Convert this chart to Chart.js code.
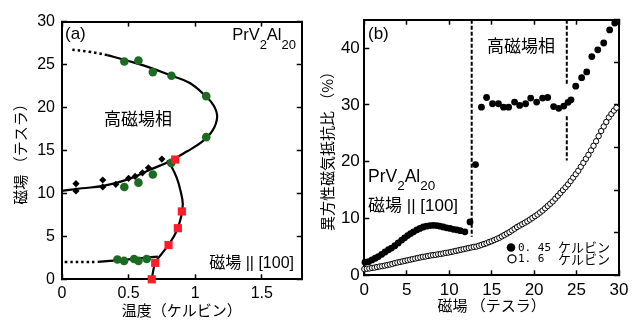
<!DOCTYPE html>
<html>
<head>
<meta charset="utf-8">
<script src="https://cdn.jsdelivr.net/npm/chart.js@4.4.1/dist/chart.umd.min.js"></script>
<style>
  html, body { margin: 0; padding: 0; background: #fff; }
  #wrap { position: relative; width: 640px; height: 333px; }
  .box { position: absolute; top: 0; width: 320px; height: 333px; }
</style>
</head>
<body>
<div id="wrap">
  <div class="box" style="left:0"><canvas id="left" width="320" height="333"></canvas></div>
  <div class="box" style="left:320px"><canvas id="right" width="320" height="333"></canvas></div>
</div>
<script>
// ---- panel (a): phase diagram, [temperature K, field T] ----
var tempTicks = [0, 0.5, 1, 1.5];
var fieldTicksA = [0, 5, 10, 15, 20, 25, 30];

var greenPts = [
  [0.468, 25.35], [0.574, 25.47], [0.682, 24.12], [0.822, 23.7], [1.083, 21.32], [1.083, 16.55],
  [0.468, 10.75], [0.574, 11.25], [0.682, 12.2], [0.82, 13.55],
  [0.416, 2.3], [0.466, 2.14], [0.541, 2.37], [0.574, 2.14], [0.636, 2.37]
];
var redPts = [[0.85, 13.94], [0.90, 7.9], [0.87, 5.95], [0.80, 3.99], [0.70, 1.92], [0.674, 0]];
var diamondPts = [
  [0.105, 11.13], [0.105, 10.29], [0.306, 11.56], [0.306, 10.75], [0.404, 11.06],
  [0.50, 11.75], [0.549, 11.98], [0.604, 12.4], [0.649, 12.98], [0.75, 14.0]
];
var upperCurve = [
  [0, 10.3], [0.15, 10.6], [0.31, 10.87], [0.49, 11.6], [0.66, 12.75], [0.81, 13.75],
  [0.94, 14.9], [1.05, 16.0], [1.13, 17.3], [1.165, 18.9], [1.14, 20.2], [1.08, 21.3],
  [0.96, 22.85], [0.82, 23.7], [0.65, 24.7], [0.48, 25.5], [0.34, 26.1]
];
var upperDotted = [[0.34, 26.1], [0.2, 26.5], [0.06, 26.75]];
var lowerCurve = [
  [0.674, 0], [0.70, 1.9], [0.75, 3.0], [0.80, 4.0], [0.86, 5.6], [0.895, 7.3],
  [0.907, 8.8], [0.89, 10.3], [0.862, 11.8], [0.82, 13.2], [0.79, 13.85]
];
var lowCurve = [[0.27, 2.03], [0.45, 2.25], [0.62, 2.5], [0.72, 2.65]];
var lowDotted = [[0.02, 2.0], [0.27, 2.03]];

// ---- panel (b): anisotropic MR ratio, [field T, ratio %] ----
var fieldTicksB = [0, 5, 10, 15, 20, 25, 30];
var ratioTicks = [0, 10, 20, 30, 40];
var ratioTicksRight = [0, 7.5, 15, 22.5, 30, 37.5, 45];

var filled045K = [
  [0.08, 2.3], [0.5, 2.4], [0.9, 2.7], [1.3, 3.0], [1.65, 3.3], [2.05, 3.7], [2.45, 4.1],
  [2.85, 4.5], [3.2, 4.8], [3.6, 5.2], [4.0, 5.7], [4.4, 6.2], [4.75, 6.6], [5.1, 7.0],
  [5.45, 7.35], [5.8, 7.65], [6.2, 8.0], [6.55, 8.25], [6.95, 8.5], [7.35, 8.65], [7.75, 8.75],
  [8.15, 8.8], [8.55, 8.75], [8.9, 8.65], [9.3, 8.5], [9.7, 8.35], [10.1, 8.25], [10.5, 8.1],
  [10.9, 8.0], [11.3, 7.85], [11.85, 7.65], [12.45, 9.4], [13.1, 19.5],
  [13.8, 29.6], [14.4, 31.3], [15.1, 30.2], [15.8, 30.2], [16.4, 29.6], [17.0, 29.6],
  [17.7, 30.5], [18.3, 29.9], [19.0, 30.2], [19.6, 31.2], [20.3, 30.5], [21.0, 31.2],
  [21.6, 31.3], [22.3, 29.7], [22.9, 29.4], [23.5, 29.8], [24.0, 30.45], [24.35, 30.9],
  [24.9, 33.3], [25.6, 34.8], [26.2, 35.8], [26.8, 38.5], [27.5, 39.7], [28.2, 40.9],
  [28.9, 43.2], [29.5, 44.4]
];
var open16K = [
  [0.0, 1.1], [0.3, 1.15], [0.6, 1.2], [0.9, 1.3], [1.2, 1.35], [1.5, 1.45], [1.8, 1.55],
  [2.1, 1.6], [2.4, 1.7], [2.7, 1.8], [3.0, 1.9], [3.3, 2.0], [3.6, 2.15], [3.9, 2.25],
  [4.2, 2.35], [4.5, 2.45], [4.8, 2.55], [5.1, 2.65], [5.4, 2.75], [5.7, 2.85], [6.0, 2.95],
  [6.3, 3.05], [6.6, 3.15], [6.9, 3.25], [7.2, 3.3], [7.5, 3.4], [7.8, 3.5], [8.1, 3.55],
  [8.4, 3.6], [8.7, 3.7], [9.0, 3.75], [9.3, 3.85], [9.6, 3.95], [9.9, 4.0], [10.2, 4.1],
  [10.5, 4.2], [10.8, 4.3], [11.1, 4.4], [11.4, 4.5], [11.7, 4.6], [12.0, 4.7], [12.3, 4.8],
  [12.6, 4.9], [12.9, 5.0], [13.2, 5.05], [13.5, 5.2], [13.8, 5.35], [14.1, 5.5], [14.4, 5.65],
  [14.7, 5.85], [15.0, 6.0], [15.3, 6.2], [15.6, 6.4], [15.9, 6.6], [16.2, 6.85], [16.5, 7.1],
  [16.8, 7.35], [17.1, 7.6], [17.4, 7.9], [17.7, 8.2], [18.0, 8.5], [18.3, 8.75], [18.6, 9.0],
  [18.9, 9.25], [19.2, 9.5], [19.5, 9.8], [19.8, 10.1], [20.1, 10.4], [20.4, 10.7], [20.7, 11.05],
  [21.0, 11.4], [21.3, 11.8], [21.6, 12.2], [21.9, 12.6], [22.2, 13.0], [22.5, 13.5], [22.8, 14.0],
  [23.1, 14.5], [23.4, 15.0], [23.7, 15.5], [24.0, 16.0], [24.3, 16.6], [24.6, 17.2], [24.9, 17.8],
  [25.2, 18.4], [25.5, 19.1], [25.8, 19.8], [26.1, 20.5], [26.4, 21.2], [26.7, 22.0], [27.0, 22.8],
  [27.3, 23.6], [27.6, 24.5], [27.9, 25.4], [28.2, 26.2], [28.5, 27.0], [28.8, 27.8], [29.1, 28.4],
  [29.4, 29.0], [29.7, 29.5]
];
var dash1 = [[12.65, 45], [12.65, 6.8]];
var dash2a = [[23.85, 45], [23.85, 33.7]];
var dash2b = [[23.85, 28], [23.85, 20.2]];

var LATIN = "'Liberation Sans', Arial, sans-serif";
var JP = "'Noto Sans CJK JP', sans-serif";
var MIX = "'Liberation Sans', 'Noto Sans CJK JP', sans-serif";

function xy(arr) { return arr.map(function (p) { return { x: p[0], y: p[1] }; }); }

function axis(pos, min, max, tickVals, size, showLabels, pad, fontSize, title) {
  var a = {
    type: 'linear', position: pos, min: min, max: max,
    afterBuildTicks: function (s) { s.ticks = tickVals.map(function (v) { return { value: v }; }); },
    afterFit: function (s) {
      if (pos === 'left' || pos === 'right') s.width = size; else s.height = size;
    },
    ticks: {
      display: showLabels, color: '#000', padding: pad, maxRotation: 0, autoSkip: false,
      font: { family: LATIN, size: fontSize || 15 },
      callback: function (v) { return String(v); }
    },
    grid: { drawOnChartArea: false, drawTicks: true, tickLength: -5, color: '#000', tickWidth: 1.5 },
    border: { display: true, color: '#000', width: 2 }
  };
  if (title) a.title = title;
  return a;
}

function line(data, dash, width) {
  return { data: xy(data), showLine: true, pointRadius: 0, borderColor: '#000',
    borderWidth: width || 2.2, borderDash: dash || [], tension: 0.4, fill: false };
}

function formula(ctx, x, base, big, small, drop, alignRight) {
  var parts = [['PrV', big, 0], ['2', small, drop], ['Al', big, 0], ['20', small, drop]];
  var total = 0;
  parts.forEach(function (p) { ctx.font = p[1] + 'px ' + LATIN; total += ctx.measureText(p[0]).width; });
  var cx = alignRight ? x - total : x;
  ctx.textAlign = 'left';
  ctx.textBaseline = 'alphabetic';
  parts.forEach(function (p) {
    ctx.font = p[1] + 'px ' + LATIN;
    ctx.fillText(p[0], cx, base + p[2]);
    cx += ctx.measureText(p[0]).width;
  });
}

var textA = {
  id: 'textA',
  afterDraw: function (chart) {
    var ctx = chart.ctx;
    ctx.save();
    ctx.fillStyle = '#000';
    ctx.font = '17px ' + LATIN;
    ctx.textAlign = 'left'; ctx.textBaseline = 'middle';
    ctx.fillText('(a)', 65, 34);
    formula(ctx, 296, 39.5, 16.5, 13, 9, true);
    ctx.font = '17px ' + JP;
    ctx.textAlign = 'center'; ctx.textBaseline = 'middle';
    ctx.fillText('高磁場相', 138, 119);
    ctx.font = '16px ' + MIX;
    ctx.textAlign = 'right';
    ctx.fillText('磁場 || [100]', 294, 264);
    ctx.restore();
  }
};

var textB = {
  id: 'textB',
  afterDraw: function (chart) {
    var ctx = chart.ctx;
    ctx.save();
    ctx.fillStyle = '#000';
    ctx.font = '17px ' + LATIN;
    ctx.textAlign = 'left'; ctx.textBaseline = 'middle';
    ctx.fillText('(b)', 48, 34);
    ctx.font = '17px ' + JP;
    ctx.textAlign = 'center';
    ctx.fillText('高磁場相', 201, 46);
    formula(ctx, 48, 182, 17.5, 13.5, 8, false);
    ctx.font = '17px ' + MIX;
    ctx.textAlign = 'left'; ctx.textBaseline = 'middle';
    ctx.fillText('磁場 || [100]', 48, 206);
    // legend
    ctx.beginPath();
    ctx.arc(191, 247.5, 4.3, 0, Math.PI * 2);
    ctx.fill();
    ctx.beginPath();
    ctx.arc(192, 258.8, 4, 0, Math.PI * 2);
    ctx.lineWidth = 1.3; ctx.strokeStyle = '#000';
    ctx.stroke();
    ctx.font = "11px 'DejaVu Sans Mono', monospace";
    ctx.fillText('0. 45', 198, 248);
    ctx.fillText('1. 6', 198, 259.5);
    ctx.font = '13px ' + JP;
    ctx.fillText('ケルビン', 238, 247.5);
    ctx.fillText('ケルビン', 238, 259);
    ctx.restore();
  }
};

var common = {
  responsive: false, animation: false,
  layout: { padding: 0 },
  plugins: { legend: { display: false }, tooltip: { enabled: false } }
};

new Chart(document.getElementById('left').getContext('2d'), {
  type: 'scatter',
  data: {
    datasets: [
      { data: xy(redPts), pointStyle: 'rect', pointRadius: 5.8, backgroundColor: '#fb1e2a', borderWidth: 0, clip: false },
      { data: xy(greenPts), pointStyle: 'circle', pointRadius: 4.3, backgroundColor: '#1d6b22', borderWidth: 0, clip: false },
      { data: xy(diamondPts), pointStyle: 'rectRot', pointRadius: 3.6, backgroundColor: '#000', borderWidth: 0, clip: false },
      line(upperCurve), line(lowerCurve), line(lowCurve),
      line(upperDotted, [2.5, 3], 2.5), line(lowDotted, [2.5, 3], 2.5)
    ]
  },
  options: Object.assign({}, common, {
    scales: {
      x: axis('bottom', 0, 1.8, tempTicks, 53.7, true, 10, 16, {
        display: true, text: '温度（ケルビン）', color: '#000',
        font: { family: JP, size: 15, lineHeight: 1 }, padding: { top: 0, bottom: 15.5 }
      }),
      x2: axis('top', 0, 1.8, tempTicks, 19, false, 0),
      y: axis('left', 0, 30, fieldTicksA, 62, true, 12, 16, {
        display: true, text: '磁場 （テスラ）', color: '#000',
        font: { family: JP, size: 15, lineHeight: 1 }, padding: { top: 13, bottom: 0 }
      }),
      y2: axis('right', 0, 30, fieldTicksA, 18.3, false, 0)
    }
  }),
  plugins: [textA]
});

new Chart(document.getElementById('right').getContext('2d'), {
  type: 'scatter',
  data: {
    datasets: [
      { data: xy(open16K), pointStyle: 'circle', pointRadius: 2.7, backgroundColor: '#fff', borderColor: '#000', borderWidth: 1, clip: false },
      { data: xy(filled045K), pointStyle: 'circle', pointRadius: 3.4, backgroundColor: '#000', borderWidth: 0, clip: false },
      Object.assign(line(dash1, [4, 2], 2), { tension: 0 }),
      Object.assign(line(dash2a, [4, 2], 2), { tension: 0 }),
      Object.assign(line(dash2b, [4, 2], 2), { tension: 0 })
    ]
  },
  options: Object.assign({}, common, {
    scales: {
      x: axis('bottom', 0, 30, fieldTicksB, 57.7, true, 10, 17, {
        display: true, text: '磁場 （テスラ）', color: '#000',
        font: { family: JP, size: 15, lineHeight: 1 }, padding: { top: 0, bottom: 20.5 }
      }),
      x2: axis('top', 0, 30, fieldTicksB, 19, false, 0),
      y: axis('left', 0, 45, ratioTicks, 44.3, true, 9.5, 17, {
        display: true, text: '異方性磁気抵抗比 （%）', color: '#000',
        font: { family: JP, size: 15, lineHeight: 1 }, padding: { top: 0, bottom: 0 }
      }),
      y2: axis('right', 0, 45, ratioTicksRight, 21, false, 0)
    }
  }),
  plugins: [textB]
});
</script>
</body>
</html>
